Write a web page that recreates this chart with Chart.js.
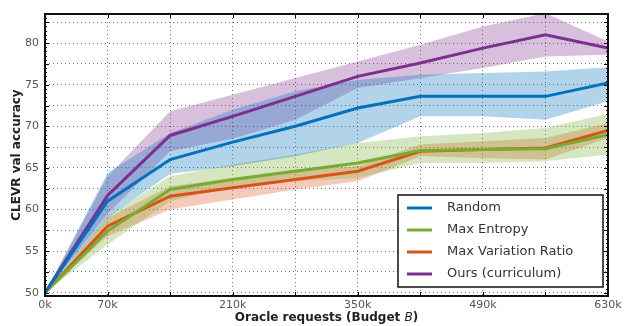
<!DOCTYPE html>
<html>
<head>
<meta charset="utf-8">
<script src="https://cdn.jsdelivr.net/npm/chart.js@4.4.1/dist/chart.umd.min.js"></script>
<style>
  html, body { margin: 0; padding: 0; background: #fff; }
  #wrap { width: 625px; height: 326px; }
</style>
</head>
<body>
<div id="wrap"><canvas id="accChart" width="625" height="326"></canvas></div>
<script>
// oracle budget in thousands of requests
const budget = [0, 70, 140, 210, 280, 350, 420, 490, 560, 630];

const randomMean = [50, 61.0, 66.0, 68.1, 70.0, 72.2, 73.6, 73.6, 73.6, 75.2];
const randomHi   = [50, 64.4, 69.2, 72.0, 74.2, 75.6, 76.2, 76.4, 76.6, 77.1];
const randomLo   = [50, 59.0, 64.3, 65.2, 66.4, 68.0, 71.2, 71.2, 70.8, 73.0];

const entropyMean = [50, 57.4, 62.4, 63.6, 64.6, 65.6, 67.1, 67.2, 67.3, 69.0];
const entropyHi   = [50, 59.2, 64.0, 65.4, 66.6, 68.0, 68.8, 69.2, 69.8, 71.5];
const entropyLo   = [50, 55.8, 61.0, 62.8, 63.4, 63.8, 65.6, 65.6, 65.8, 66.6];

const variationMean = [50, 58.0, 61.6, 62.6, 63.6, 64.6, 67.0, 67.2, 67.4, 69.5];
const variationHi   = [50, 59.0, 62.8, 63.8, 64.8, 65.2, 67.8, 68.2, 68.6, 70.4];
const variationLo   = [50, 56.8, 60.0, 61.2, 62.4, 63.4, 66.4, 66.2, 66.0, 68.6];

const oursMean = [50, 61.7, 68.9, 71.2, 73.6, 76.0, 77.6, 79.4, 81.0, 79.4];
const oursHi   = [50, 64.0, 71.8, 73.8, 75.8, 77.8, 79.8, 82.0, 83.6, 80.2];
const oursLo   = [50, 59.5, 67.0, 68.5, 70.8, 74.6, 75.8, 77.0, 78.4, 78.6];

const seriesNames = ["Random", "Max Entropy", "Max Variation Ratio", "Ours (curriculum)"];
const xTickLabels = [0, 70, 210, 350, 490, 630];
const yTickLabels = [50, 55, 60, 65, 70, 75, 80];

const colors = [
  [0, 114, 189],
  [119, 172, 48],
  [217, 83, 25],
  [126, 47, 142]
];
const rgba = (c, a) => `rgba(${c[0]},${c[1]},${c[2]},${a})`;

const toPts = arr => arr.map((v, i) => ({ x: budget[i], y: v }));

const groups = [
  [randomMean, randomHi, randomLo],
  [entropyMean, entropyHi, entropyLo],
  [variationMean, variationHi, variationLo],
  [oursMean, oursHi, oursLo]
];

const datasets = [];
groups.forEach((g, i) => {
  // shaded band: upper edge then lower edge filled to it
  datasets.push({
    label: seriesNames[i] + " hi",
    data: toPts(g[1]),
    borderWidth: 0,
    pointRadius: 0,
    fill: false,
    order: 2
  });
  datasets.push({
    label: seriesNames[i] + " lo",
    data: toPts(g[2]),
    borderWidth: 0,
    pointRadius: 0,
    fill: "-1",
    backgroundColor: rgba(colors[i], 0.3),
    order: 2
  });
});
groups.forEach((g, i) => {
  datasets.push({
    label: seriesNames[i],
    data: toPts(g[0]),
    borderColor: rgba(colors[i], 1),
    borderWidth: 3,
    pointRadius: 0,
    tension: 0,
    fill: false,
    order: 1
  });
});

// frame, inward ticks, axis titles and the legend inside the plot
const decorations = {
  id: "decorations",
  afterDraw(chart) {
    const { ctx, chartArea: a, scales } = chart;
    const xs = scales.x, ys = scales.y;
    ctx.save();

    // inward tick marks
    ctx.strokeStyle = "#000";
    ctx.lineWidth = 1;
    ctx.beginPath();
    for (let v = 50; v <= 83; v += 0.5) {
      const y = Math.round(ys.getPixelForValue(v)) + 0.5;
      const len = (v % 2.5 === 0) ? 4 : 2;
      ctx.moveTo(a.left, y); ctx.lineTo(a.left + len, y);
      ctx.moveTo(a.right, y); ctx.lineTo(a.right - len, y);
    }
    budget.forEach(b => {
      const x = Math.round(xs.getPixelForValue(b)) + 0.5;
      ctx.moveTo(x, a.bottom); ctx.lineTo(x, a.bottom - 4);
      ctx.moveTo(x, a.top); ctx.lineTo(x, a.top + 4);
    });
    ctx.stroke();

    // frame
    ctx.lineWidth = 2;
    ctx.strokeStyle = "#111";
    ctx.strokeRect(a.left, a.top, a.right - a.left, a.bottom - a.top);

    // y title
    ctx.fillStyle = "#222";
    ctx.font = "bold 12px 'DejaVu Sans'";
    ctx.textAlign = "center";
    ctx.textBaseline = "middle";
    ctx.save();
    ctx.translate(17, (a.top + a.bottom) / 2);
    ctx.rotate(-Math.PI / 2);
    ctx.fillText("CLEVR val accuracy", 0, 0);
    ctx.restore();

    // x title with italic B
    const p1 = "Oracle requests (Budget ", p2 = "B", p3 = ")";
    const fB = "bold 12px 'DejaVu Sans'", fI = "italic 12px 'DejaVu Sans'";
    ctx.font = fB; const w1 = ctx.measureText(p1).width, w3 = ctx.measureText(p3).width;
    ctx.font = fI; const w2 = ctx.measureText(p2).width;
    const x0 = (a.left + a.right) / 2 - (w1 + w2 + w3) / 2;
    const ty = 318;
    ctx.textAlign = "left";
    ctx.font = fB; ctx.fillText(p1, x0, ty);
    ctx.font = fI; ctx.fillText(p2, x0 + w1, ty);
    ctx.font = fB; ctx.fillText(p3, x0 + w1 + w2, ty);

    // legend box
    const lx = 398, ly = 195, lw = 205, lh = 92;
    ctx.fillStyle = "#fff";
    ctx.fillRect(lx, ly, lw, lh);
    ctx.lineWidth = 1.5;
    ctx.strokeStyle = "#111";
    ctx.strokeRect(lx, ly, lw, lh);
    ctx.font = "13px 'DejaVu Sans'";
    ctx.textBaseline = "middle";
    seriesNames.forEach((name, i) => {
      const y = 208 + i * 22;
      ctx.strokeStyle = rgba(colors[i], 1);
      ctx.lineWidth = 3;
      ctx.beginPath();
      ctx.moveTo(407, y); ctx.lineTo(432, y);
      ctx.stroke();
      ctx.fillStyle = "#333";
      ctx.fillText(name, 447, y);
    });
    ctx.restore();
  }
};

new Chart(document.getElementById("accChart"), {
  type: "line",
  data: { datasets },
  plugins: [decorations],
  options: {
    responsive: false,
    animation: false,
    devicePixelRatio: 1,
    layout: { padding: { top: 14, right: 17, left: 0, bottom: 0 } },
    plugins: {
      legend: { display: false },
      tooltip: { enabled: false },
      filler: { propagate: false }
    },
    scales: {
      x: {
        type: "linear",
        min: 0,
        max: 630,
        afterBuildTicks: s => { s.ticks = budget.map(v => ({ value: v })); },
        afterFit: s => { s.height = 30; },
        ticks: {
          autoSkip: false,
          maxRotation: 0,
          padding: 3,
          color: "#555",
          font: { family: "DejaVu Sans", size: 11 },
          callback: v => xTickLabels.includes(v) ? v + "k" : ""
        },
        grid: {
          color: "rgba(0,0,0,0.55)",
          drawTicks: false
        },
        border: { display: false, dash: [1, 3] }
      },
      y: {
        type: "linear",
        min: 49.6,
        max: 83.5,
        afterBuildTicks: s => {
          const t = [];
          for (let v = 50; v <= 82.5; v += 2.5) t.push({ value: v });
          s.ticks = t;
        },
        afterFit: s => { s.width = 45; },
        ticks: {
          autoSkip: false,
          padding: 6,
          color: "#555",
          font: { family: "DejaVu Sans", size: 11 },
          callback: v => yTickLabels.includes(v) ? String(v) : ""
        },
        grid: {
          color: "rgba(0,0,0,0.55)",
          drawTicks: false
        },
        border: { display: false, dash: [1, 3] }
      }
    }
  }
});
</script>
</body>
</html>
